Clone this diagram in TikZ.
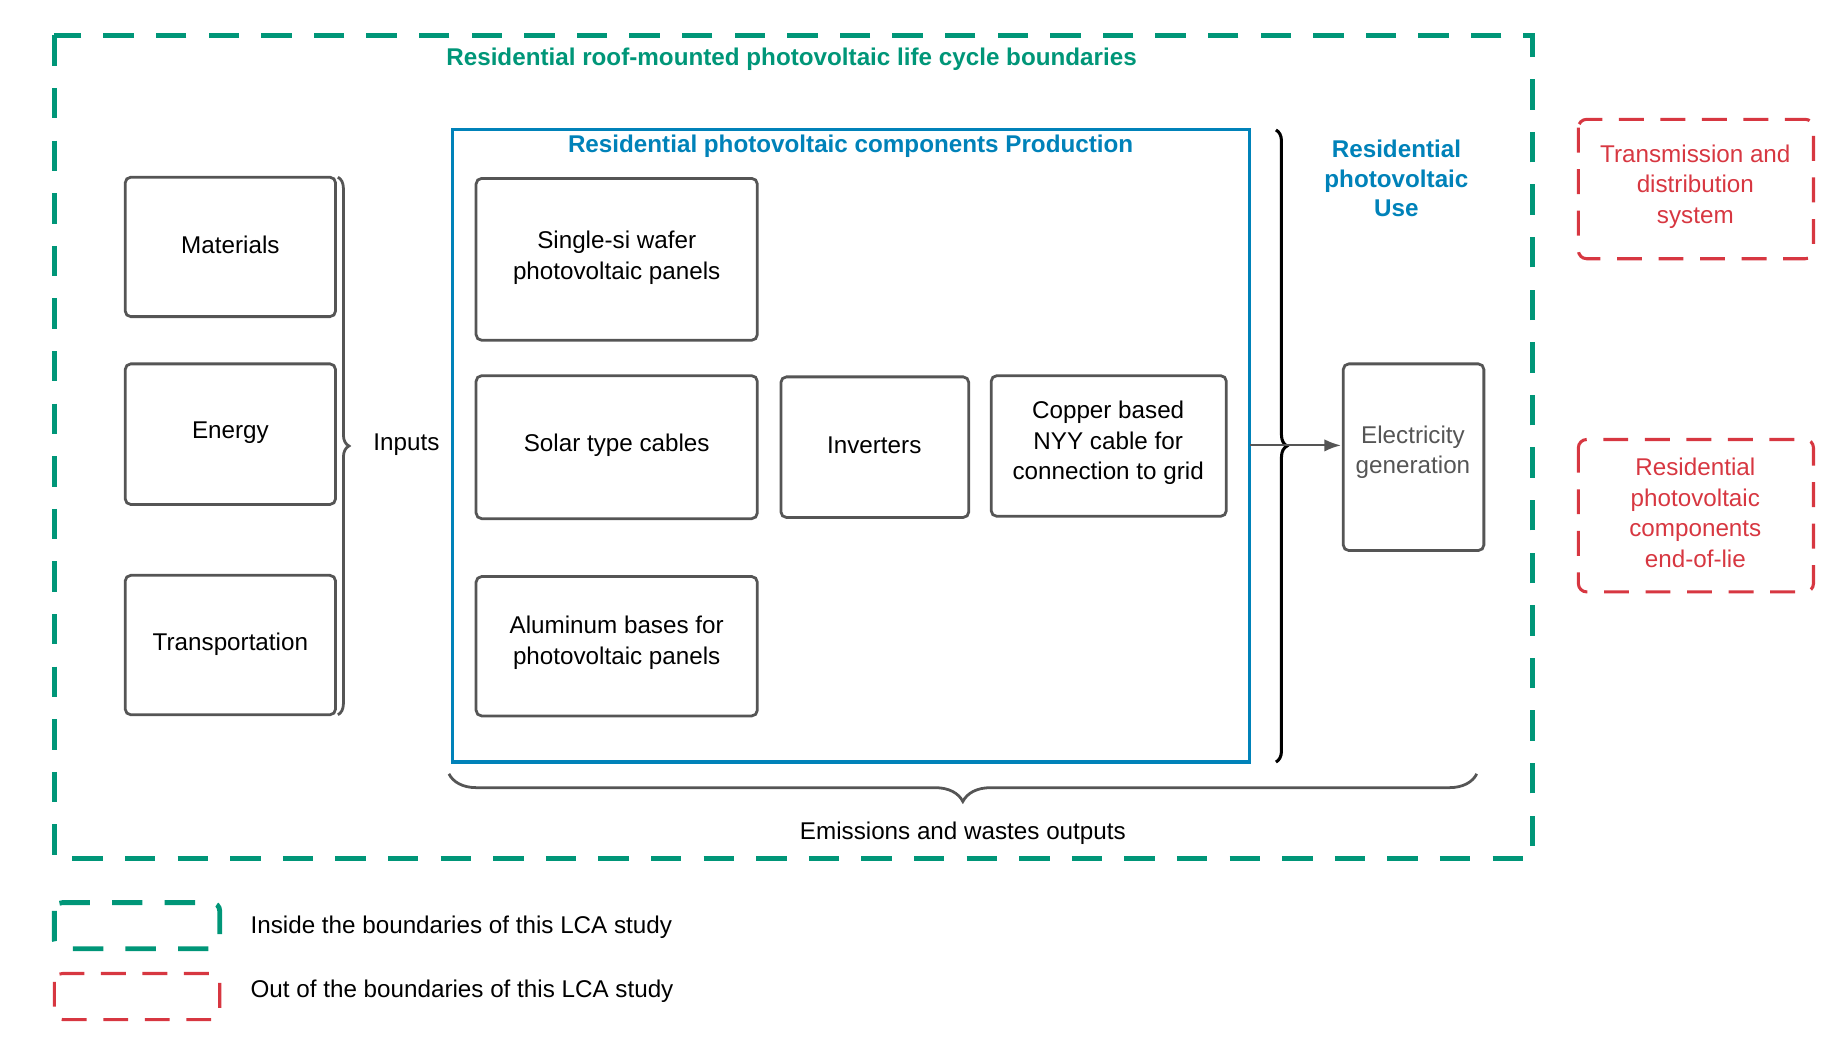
\documentclass[tikz,border=0pt]{standalone}
\usepackage{fontspec}
\setmainfont{Liberation Sans}
\usetikzlibrary{decorations.pathreplacing,arrows.meta}
\definecolor{grn}{RGB}{0,150,120}
\definecolor{blu}{RGB}{0,130,185}
\definecolor{rd}{RGB}{215,55,65}
\definecolor{gr}{RGB}{85,85,85}
\begin{document}
\begin{tikzpicture}[x=0.03cm,y=-0.03cm,
  box/.style={draw=gr,line width=2pt,rounded corners=4pt},
  gdash/.style={draw=grn,line width=3.5pt,dash pattern=on 22pt off 16pt},
  rdash/.style={draw=rd,line width=2.2pt,dash pattern=on 18pt off 12pt,rounded corners=6pt},
  ttl/.style={font=\bfseries\fontsize{17.5}{21}\selectfont,align=center},
  lbl/.style={font=\fontsize{17.5}{22}\selectfont,align=center}]
\useasboundingbox (0,0) rectangle (1560,890);
\draw[gdash] (46,30) rectangle (1297,727);
\node[ttl,text=grn] (t1) at (670,50) {Residential roof-mounted photovoltaic life cycle boundaries};
\draw[blu,line width=2.2pt] (383,110) rectangle (1058,645);
\node[ttl,text=blu] (t2) at (720,124) {Residential photovoltaic components Production};
\node[ttl,text=blu] (t3) at (1182,151) {Residential\\photovoltaic\\Use};
\draw[box] (106,150) rectangle (284,268); \node[lbl] (m) at (195,207) {Materials};
\draw[box] (106,308) rectangle (284,427); \node[lbl] (e) at (195,366) {Energy};
\draw[box] (106,487) rectangle (284,605); \node[lbl] (tr) at (195,545) {Transportation};
\draw[gr,line width=2pt,decorate,decoration={brace,amplitude=8pt}] (286,150) -- (286,605);
\node[lbl] (inp) at (344,376) {Inputs};
\draw[box] (403,151) rectangle (641,288); \node[lbl] (s1) at (522,218) {Single-si wafer\\photovoltaic panels};
\draw[box] (403,318) rectangle (641,439); \node[lbl] (s2) at (522,377) {Solar type cables};
\draw[box] (661,319) rectangle (820,438); \node[lbl] (s3) at (740,377) {Inverters};
\draw[box] (839,318) rectangle (1038,437); \node[lbl] (s4) at (938,375) {Copper based\\NYY cable for\\connection to grid};
\draw[box] (403,488) rectangle (641,606); \node[lbl] (s5) at (522,544) {Aluminum bases for\\photovoltaic panels};
\draw[black,line width=2.2pt,decorate,decoration={brace,amplitude=8pt}] (1080,110) -- (1080,645);
\coordinate (bt) at (1058,377);
\draw[box] (1137,308) rectangle (1256,466);
\node[lbl,text=gr] (el) at (1196,383) {Electricity\\generation};
\coordinate (elw) at (1135,377);
\draw[gr,line width=1.5pt,-{Latex[length=12pt,width=9pt]}] (bt) -- (elw);
\draw[rdash] (1336,101) rectangle (1535,219);
\node[lbl,text=rd] (r1) at (1435,158) {Transmission and\\distribution\\system};
\draw[rdash] (1336,372) rectangle (1535,501);
\node[lbl,text=rd] (r2) at (1435,434) {Residential\\photovoltaic\\components\\end-of-lie};
\draw[gr,line width=2pt,decorate,decoration={brace,mirror,amplitude=20pt}] (380,655) -- (1250,655);
\node[lbl] (em) at (815,705) {Emissions and wastes outputs};
\draw[gdash,rounded corners=6pt] (46,764) rectangle (186,803);
\draw[rdash] (46,824) rectangle (186,863);
\node[lbl,anchor=west] (l1) at (208,785) {Inside the boundaries of this LCA study};
\node[lbl,anchor=west] (l2) at (208,839) {Out of the boundaries of this LCA study};
\end{tikzpicture}
\end{document}
